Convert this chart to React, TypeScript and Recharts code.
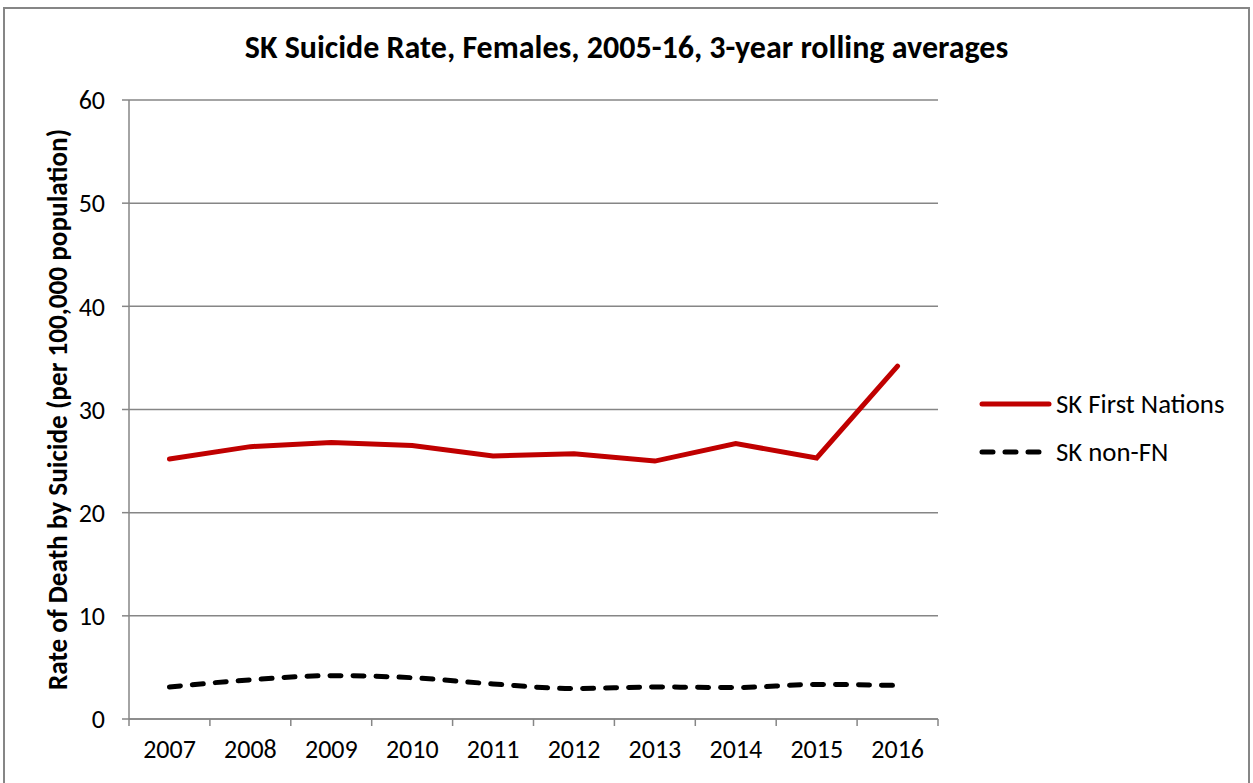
import React from "react";
import { LineChart, Line, XAxis, YAxis, CartesianGrid } from "recharts";

const years = ["2007", "2008", "2009", "2010", "2011", "2012", "2013", "2014", "2015", "2016"];
const firstNations = [25.2, 26.4, 26.8, 26.5, 25.5, 25.7, 25.0, 26.7, 25.3, 34.2];
const nonFN = [3.1, 3.8, 4.2, 4.0, 3.4, 2.95, 3.1, 3.05, 3.35, 3.25];
const yTicks = [0, 10, 20, 30, 40, 50, 60];
const title = "SK Suicide Rate, Females, 2005-16, 3-year rolling averages";
const yLabel = "Rate of Death by Suicide (per 100,000 population)";
const seriesNames = ["SK First Nations", "SK non-FN"];

const data = years.map((y, i) => ({ x: i + 0.5, year: y, fn: firstNations[i], nfn: nonFN[i] }));
const xTicks = years.map((_, i) => i).concat([years.length]);

const FONT = "Carlito, Calibri, 'Open Sans', sans-serif";
const GRAY = "#868686";
const RED = "#C00000";

const XTick = (props: any) => {
  const { x, y, payload, index } = props;
  if (index >= years.length) return null;
  const band = 811 / years.length;
  return (
    <text x={x + band / 2} y={y} dy="0.71em" textAnchor="middle" fontFamily={FONT} fontSize={26} fill="#000">
      {years[payload.value] ?? years[index]}
    </text>
  );
};

const LegendBox = () => (
  <div style={{ position: "absolute", left: 976, top: 380, fontFamily: FONT, fontSize: 26.8, color: "#000" }}>
    <div style={{ display: "flex", alignItems: "center", height: 48 }}>
      <svg width={80} height={10}>
        <line x1={6} y1={5} x2={73} y2={5} stroke={RED} strokeWidth={5} strokeLinecap="round" />
      </svg>
      <span style={{ lineHeight: "26px" }}>{seriesNames[0]}</span>
    </div>
    <div style={{ display: "flex", alignItems: "center", height: 48 }}>
      <svg width={80} height={10}>
        <line x1={6} y1={5} x2={73} y2={5} stroke="#000" strokeWidth={5} strokeLinecap="round" strokeDasharray="11 12" />
      </svg>
      <span style={{ lineHeight: "26px" }}>{seriesNames[1]}</span>
    </div>
  </div>
);

export default function App() {
  return (
    <div style={{ position: "absolute", left: 0, top: 0, width: 1253, height: 783, background: "#fff", overflow: "hidden" }}>
      <div style={{ position: "absolute", left: 3, top: 7, width: 1247, height: 800, border: `2px solid ${GRAY}`, boxSizing: "border-box" }} />
      <div style={{ position: "absolute", left: 0, top: 28, width: 1253, textAlign: "center", fontFamily: FONT, fontWeight: "bold", fontSize: 32, lineHeight: "40px", color: "#000" }}>
        {title}
      </div>
      <div style={{ position: "absolute", left: 0, top: 0 }}>
        <LineChart width={1253} height={783} data={data} margin={{ top: 100, right: 315, left: 69, bottom: 24 }}>
          <CartesianGrid vertical={false} stroke={GRAY} strokeWidth={1.5} />
          <XAxis
            dataKey="x"
            type="number"
            domain={[0, years.length]}
            ticks={xTicks}
            interval={0}
            height={40}
            stroke={GRAY}
            strokeWidth={1.5}
            tickSize={7}
            tickMargin={14}
            tick={<XTick />}
          />
          <YAxis
            domain={[0, 60]}
            ticks={yTicks}
            width={60}
            stroke={GRAY}
            strokeWidth={1.5}
            tickSize={7}
            tickMargin={17}
            tick={{ fill: "#000", fontFamily: FONT, fontSize: 26 }}
            label={{
              value: yLabel,
              angle: -90,
              position: "center",
              dx: -42,
              style: { fontFamily: FONT, fontWeight: "bold", fontSize: 27.2, fill: "#000", textAnchor: "middle" },
            }}
          />
          <Line
            type="linear"
            dataKey="fn"
            name={seriesNames[0]}
            stroke={RED}
            strokeWidth={5}
            dot={false}
            strokeLinecap="round"
            isAnimationActive={false}
          />
          <Line
            type="monotone"
            dataKey="nfn"
            name={seriesNames[1]}
            stroke="#000"
            strokeWidth={5}
            strokeDasharray="11 12"
            strokeLinecap="round"
            dot={false}
            isAnimationActive={false}
          />
        </LineChart>
      </div>
      <LegendBox />
    </div>
  );
}
